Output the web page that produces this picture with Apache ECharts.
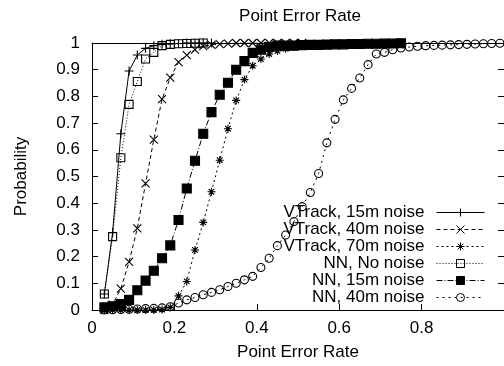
<!DOCTYPE html>
<html>
<head>
<meta charset="utf-8">
<script src="https://cdn.jsdelivr.net/npm/echarts@6/dist/echarts.min.js"></script>
<style>html,body{margin:0;padding:0;background:#fff;}#c{width:504px;height:366px;}</style>
</head>
<body>
<div id="c"></div>
<script>
// Shared x positions (point error rate)
var xs = [0.03,0.05,0.07,0.09,0.11,0.13,0.15,0.17,0.19,0.21,0.23,0.25,0.27,0.29,0.31,0.33,0.35,0.37,0.39,0.41,
          0.43,0.45,0.47,0.49,0.51,0.53,0.55,0.57,0.59,0.61,0.63,0.65,0.67,0.69,0.71,0.73,0.75,0.77,0.79,0.81,
          0.83,0.85,0.87,0.89,0.91,0.93,0.95,0.97,0.99];

var seriesNames = ['VTrack, 15m noise','VTrack, 40m noise','VTrack, 70m noise','NN, No noise','NN, 15m noise','NN, 40m noise'];

var vtrack15 = [0.06,0.29,0.66,0.895,0.955,0.98,0.99,0.995,0.997,0.998,1,1,1,1];
var vtrack40 = [0,0.02,0.08,0.18,0.306,0.474,0.638,0.79,0.87,0.928,0.955,0.975,0.988,0.993,0.996,0.998,1,1,1,1,1,1,1,1,1];
var vtrack70 = [0,0,0,0,0,0,0,0.002,0.01,0.053,0.107,0.225,0.328,0.443,0.561,0.679,0.785,0.863,0.915,0.94,0.959,0.97,0.978,0.985,0.99,0.993];
var nnNone   = [0.06,0.275,0.57,0.77,0.856,0.94,0.965,0.99,0.995,0.997,0.998,0.999,1];
var nn15     = [0.01,0.014,0.022,0.038,0.074,0.11,0.147,0.194,0.242,0.337,0.455,0.559,0.66,0.741,0.806,0.851,0.9,0.932,0.963,0.975,
                0.985,0.99,0.99,0.99,0.992,0.993,0.993,0.994,0.995,0.995,0.996,0.996,0.997,0.997,0.998,0.998,0.999];
var nn40     = [0,0.001,0.002,0.003,0.004,0.005,0.006,0.008,0.012,0.026,0.038,0.047,0.057,0.066,0.076,0.088,0.1,0.113,0.126,0.159,
                0.194,0.241,0.281,0.331,0.387,0.44,0.511,0.626,0.714,0.787,0.83,0.869,0.919,0.959,0.965,0.975,0.981,0.985,0.988,0.99,
                0.991,0.992,0.993,0.994,0.995,0.996,0.997,0.998,0.999];

var xTicks = ['0','0.2','0.4','0.6','0.8','1'];
var yTicks = ['0','0.1','0.2','0.3','0.4','0.5','0.6','0.7','0.8','0.9','1'];

function pairs(ys){ return ys.map(function(y,i){ return [xs[i], y]; }); }

var FONT = 'Liberation Sans, Arial, Helvetica, sans-serif';
var FS = 17;

var symPlus  = 'path://M0,5L10,5M5,0L5,10';
var symCross = 'path://M0,0L10,10M10,0L0,10';
var symStar  = 'path://M0,5L10,5M5,0L5,10M1.5,1.5L8.5,8.5M8.5,1.5L1.5,8.5';

function mk(name, ys, symbol, size, fill, dash){
  return {
    name: name, type: 'line', data: pairs(ys),
    symbol: symbol, symbolSize: size, showAllSymbol: true,
    lineStyle: {color:'#000', width:1, type: dash},
    itemStyle: {color: fill, borderColor:'#000', borderWidth:1.1},
    emphasis: {disabled:true},
    z: 3
  };
}

var chart = echarts.init(document.getElementById('c'), null, {renderer:'canvas'});
chart.setOption({
  animation: false,
  backgroundColor: '#fff',
  textStyle: {fontFamily: FONT, color:'#000'},
  title: {
    text: 'Point Error Rate', left: 300, top: 8, textAlign: 'center', padding: 0,
    textStyle: {fontFamily: FONT, fontSize: FS, fontWeight: 'normal', color:'#000'}
  },
  grid: {left: 92, top: 43, width: 413, height: 269, containLabel:false},
  legend: {
    orient: 'vertical', align: 'right', right: 19, top: 204, padding: 0,
    itemWidth: 48, itemHeight: 10, itemGap: 0,
    selectedMode: false,
    data: seriesNames,
    lineStyle: {width: 1},
    itemStyle: {borderWidth: 1},
    textStyle: {fontFamily: FONT, fontSize: FS, color:'#000', lineHeight: 17, padding:[0,7,0,0]}
  },
  xAxis: [{
    type: 'value', min: 0, max: 1, interval: 0.2, position: 'bottom',
    name: 'Point Error Rate', nameLocation: 'middle', nameGap: 34,
    nameTextStyle: {fontFamily: FONT, fontSize: FS, color:'#000'},
    axisLine: {show:true, onZero:false, lineStyle:{color:'#000', width:1}},
    axisTick: {show:true, inside:true, length:6, lineStyle:{color:'#000'}},
    axisLabel: {margin: 10, fontFamily: FONT, fontSize: FS, color:'#000', showMaxLabel:false,
      formatter: function(v){ return xTicks[Math.round(v/0.2)]; }},
    splitLine: {show:false}
  },{
    type: 'value', min: 0, max: 1, interval: 0.2, position: 'top',
    axisLine: {show:true, onZero:false, lineStyle:{color:'#000', width:1}},
    axisTick: {show:true, inside:true, length:6, lineStyle:{color:'#000'}},
    axisLabel: {show:false}, splitLine: {show:false}
  }],
  yAxis: [{
    type: 'value', min: 0, max: 1, interval: 0.1, position: 'left',
    name: 'Probability', nameLocation: 'middle', nameGap: 62, nameRotate: 90,
    nameTextStyle: {fontFamily: FONT, fontSize: FS, color:'#000'},
    axisLine: {show:true, onZero:false, lineStyle:{color:'#000', width:1}},
    axisTick: {show:true, inside:true, length:6, lineStyle:{color:'#000'}},
    axisLabel: {margin: 12, fontFamily: FONT, fontSize: FS, color:'#000',
      formatter: function(v){ return yTicks[Math.round(v/0.1)]; }},
    splitLine: {show:false}
  },{
    type: 'value', min: 0, max: 1, interval: 0.1, position: 'right',
    axisLine: {show:true, onZero:false, lineStyle:{color:'#000', width:1}},
    axisTick: {show:true, inside:true, length:6, lineStyle:{color:'#000'}},
    axisLabel: {show:false}, splitLine: {show:false}
  }],
  series: [
    mk(seriesNames[0], vtrack15, symPlus, 9, 'transparent', 'solid'),
    mk(seriesNames[1], vtrack40, symCross, 8, 'transparent', [4,3]),
    mk(seriesNames[2], vtrack70, symStar, 8, 'transparent', [2,3]),
    mk(seriesNames[3], nnNone, 'rect', 8, 'transparent', [1,2]),
    mk(seriesNames[4], nn15, 'rect', 9, '#000', [6,2,1,2]),
    mk(seriesNames[5], nn40, 'circle', 8, 'transparent', [2,4])
  ]
});
</script>
</body>
</html>
